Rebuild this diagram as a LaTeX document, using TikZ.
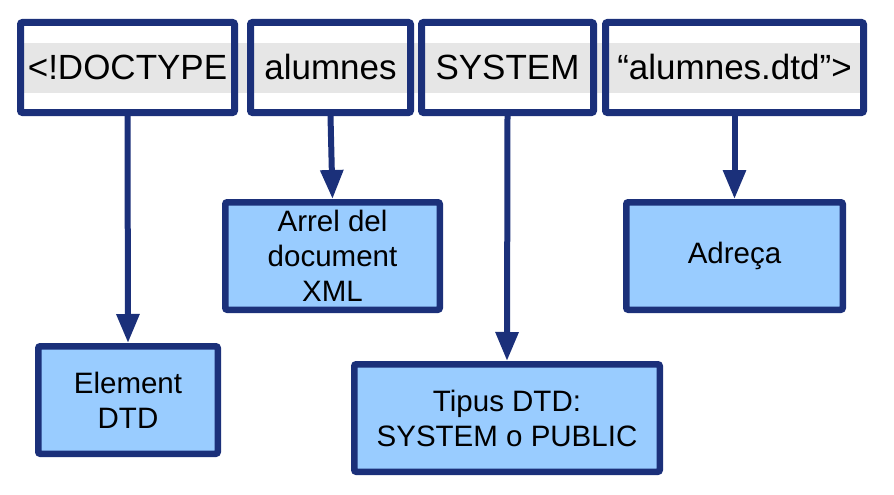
\documentclass[tikz,border=0pt]{standalone}
\usepackage{fontspec}
\setmainfont{Liberation Sans}
\usetikzlibrary{arrows.meta}
\definecolor{navy}{RGB}{27,48,122}
\definecolor{boxblue}{RGB}{153,204,255}
\definecolor{band}{RGB}{230,230,230}
\tikzset{
  topbox/.style={draw=navy, line width=7pt, rounded corners=2pt, minimum height=90pt,
    inner sep=0pt, text height=25pt, text depth=0pt, font=\fontsize{35pt}{42pt}\selectfont},
  infobox/.style={draw=navy, fill=boxblue, line width=6.5pt, rounded corners=2pt,
    minimum height=107.5pt, inner sep=0pt, align=center,
    font=\fontsize{29.5pt}{35pt}\selectfont},
  link/.style={draw=navy, line width=6pt, -{Triangle[length=29pt,width=22pt]}}
}
\begin{document}
\begin{tikzpicture}[x=1pt,y=-1pt]
\useasboundingbox (0,0) rectangle (894,495);
\fill[band] (17,43) rectangle (867,93);
\node[topbox, minimum width=214pt] (t1) at (127.5,67.5) {<!DOCTYPE};
\node[topbox, minimum width=160pt] (t2) at (330.5,67.5) {alumnes};
\node[topbox, minimum width=172pt] (t3) at (507.5,67.5) {SYSTEM};
\node[topbox, minimum width=258pt] (t4) at (734.5,67.5) {“alumnes.dtd”>};
\node[infobox, minimum width=179.5pt] (b1) at (128,400) {Element\\DTD};
\node[infobox, minimum width=214.5pt] (b2) at (332.5,256) {Arrel del\\document\\XML};
\node[infobox, minimum width=305.5pt] (b3) at (507,418) {Tipus DTD:\\SYSTEM o PUBLIC};
\node[infobox, minimum width=216.5pt] (b4) at (734.5,256) {Adreça};
\draw[link] (t1.south) -- (b1.north);
\draw[link] (t2.south) -- (b2.north);
\draw[link] (t3.south) -- (b3.north);
\draw[link] (t4.south) -- (b4.north);
\end{tikzpicture}
\end{document}
